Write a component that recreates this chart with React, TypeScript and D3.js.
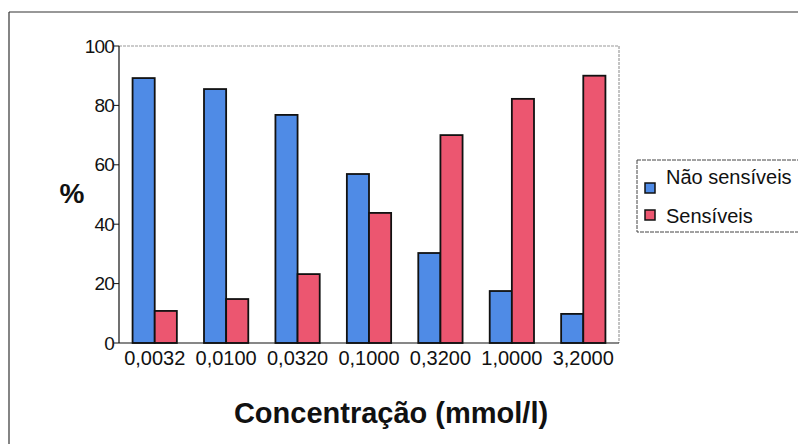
import React from "react";
import * as d3 from "d3";

const categories = ["0,0032", "0,0100", "0,0320", "0,1000", "0,3200", "1,0000", "3,2000"];
const naoSensiveis = [89.2, 85.5, 76.8, 56.9, 30.3, 17.5, 9.8];
const sensiveis = [10.8, 14.8, 23.2, 43.8, 70.0, 82.2, 90.0];
const seriesNames = ["Não sensíveis", "Sensíveis"];
const yTicks = [0, 20, 40, 60, 80, 100];

const BLUE = "#4f8be6";
const RED = "#ec5670";
const FONT = "Arial, 'Liberation Sans', sans-serif";

export default function App() {
  const W = 798, H = 444;
  const left = 119, right = 619, top = 46, bottom = 343;
  const x = d3.scaleBand<string>().domain(categories).range([left, right]).paddingInner(0.38).paddingOuter(0.19);
  const xs = d3.scaleBand<string>().domain(["a", "b"]).range([0, x.bandwidth()]);
  const y = d3.scaleLinear().domain([0, 100]).range([bottom, top]);
  const series = [naoSensiveis, sensiveis];
  const colors = [BLUE, RED];

  return (
    <svg width={W} height={H} style={{ position: "absolute", left: 0, top: 0, background: "#fff" }}>
      <rect x={0} y={0} width={W} height={H} fill="#fff" />
      {/* outer frame */}
      <line x1={9} y1={12} x2={W} y2={12} stroke="#333" strokeWidth={1.2} />
      <line x1={9} y1={12} x2={9} y2={H} stroke="#333" strokeWidth={1.2} />
      {/* plot border dotted */}
      <line x1={left} y1={top} x2={right} y2={top} stroke="#999" strokeWidth={1} strokeDasharray="3,1" />
      <line x1={right} y1={top} x2={right} y2={bottom} stroke="#888" strokeWidth={1} strokeDasharray="3,1" />
      {/* bars */}
      {categories.map((c, i) =>
        series.map((s, k) => (
          <rect
            key={c + k}
            x={(x(c) as number) + (xs(k === 0 ? "a" : "b") as number)}
            y={y(s[i])}
            width={xs.bandwidth()}
            height={bottom - y(s[i])}
            fill={colors[k]}
            stroke="#111"
            strokeWidth={1.8}
          />
        ))
      )}
      {/* axes */}
      <line x1={left} y1={top} x2={left} y2={bottom} stroke="#111" strokeWidth={1.2} />
      <line x1={left} y1={bottom} x2={right} y2={bottom} stroke="#111" strokeWidth={1.2} />
      {yTicks.map((t) => (
        <g key={t}>
          <line x1={left - 5} x2={left} y1={y(t)} y2={y(t)} stroke="#111" />
          <text x={left - 5} y={y(t)} dy="0.35em" textAnchor="end" fontFamily={FONT} fontSize={19} letterSpacing={-0.8} fill="#111">
            {t}
          </text>
        </g>
      ))}
      {categories.map((c) => (
        <text key={c} x={(x(c) as number) + x.bandwidth() / 2} y={bottom + 22} textAnchor="middle" fontFamily={FONT} fontSize={20} fill="#111">
          {c}
        </text>
      ))}
      <text x={72} y={193} dy="0.35em" textAnchor="middle" fontFamily={FONT} fontSize={28} fontWeight="bold" fill="#111">%</text>
      <text x={391} y={423} textAnchor="middle" fontFamily={FONT} fontSize={29} fontWeight="bold" fill="#111">Concentração (mmol/l)</text>
      {/* legend */}
      <rect x={637} y={160} width={170} height={72} fill="#fff" stroke="#444" strokeWidth={1} strokeDasharray="4,1" />
      {seriesNames.map((n, k) => (
        <g key={n}>
          <rect x={645} y={183 + k * 27} width={10} height={10} fill={colors[k]} stroke="#111" strokeWidth={1.5} />
          <text x={666} y={184 + k * 39} fontFamily={FONT} fontSize={20} fill="#111">{n}</text>
        </g>
      ))}
    </svg>
  );
}
